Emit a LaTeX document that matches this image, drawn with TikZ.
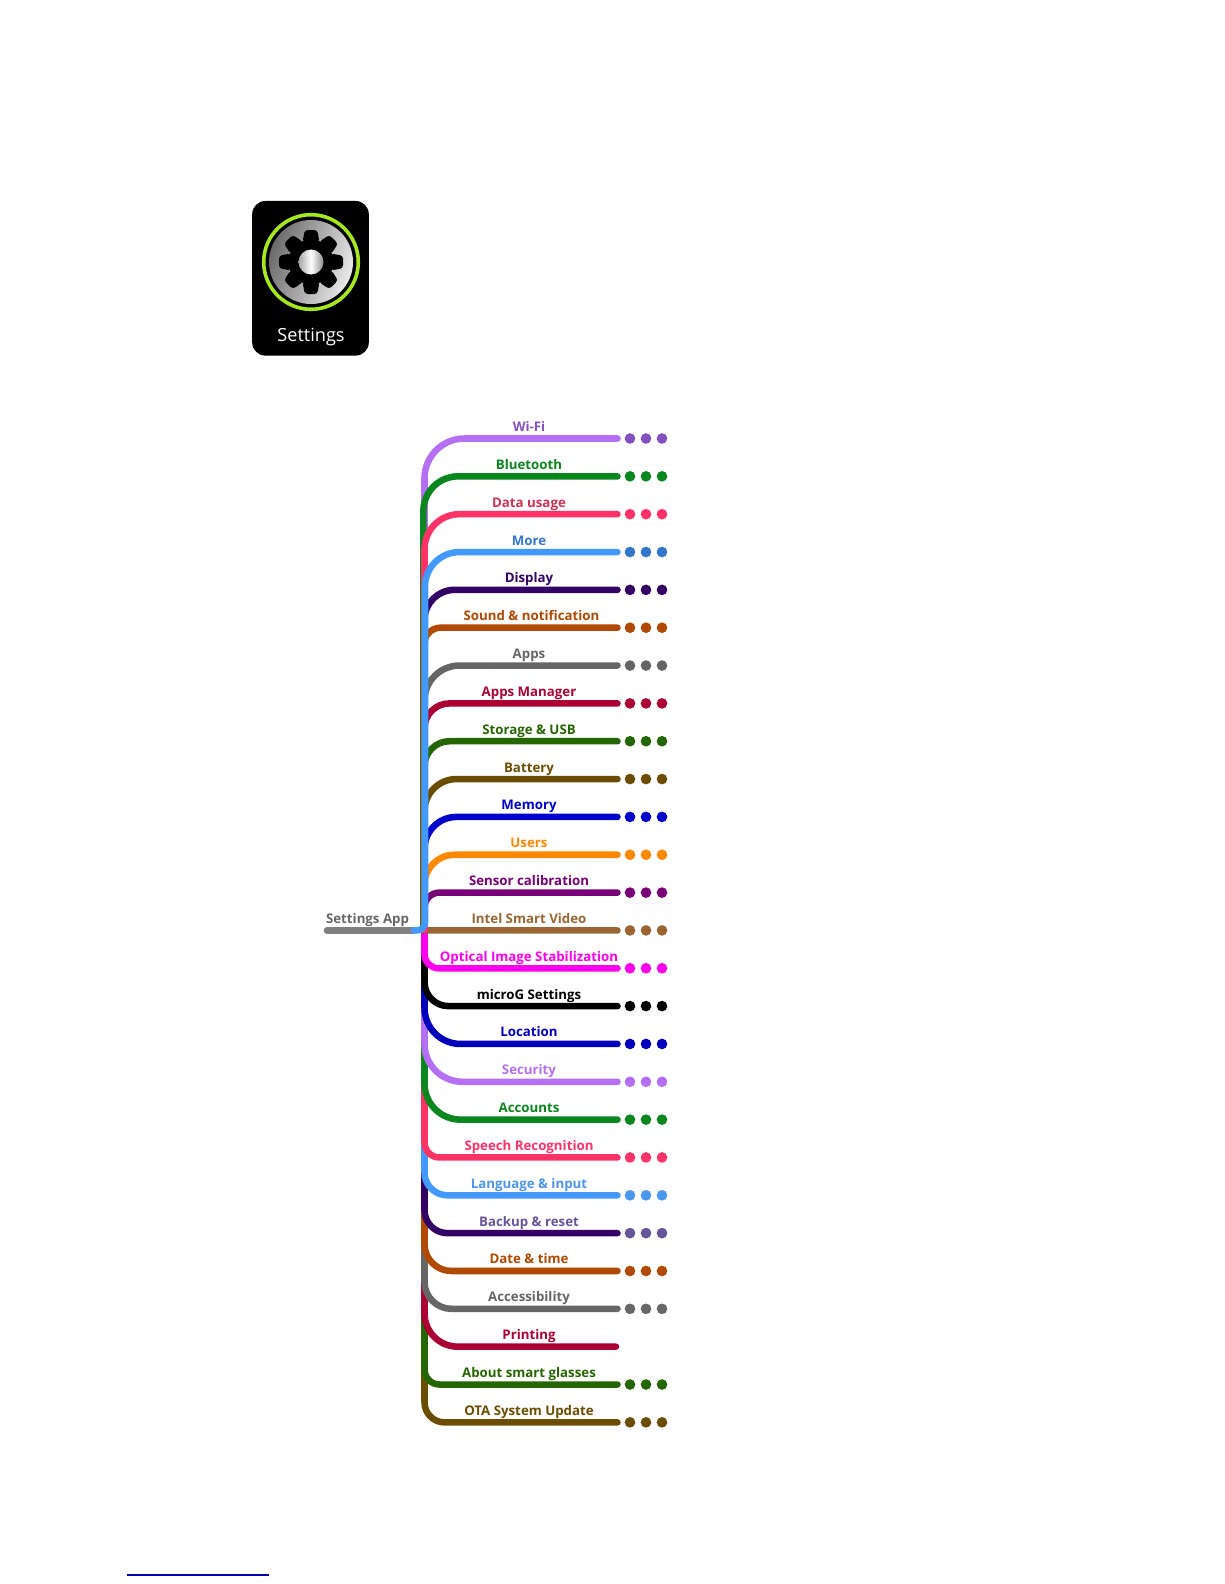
\documentclass[tikz,border=0pt]{standalone}
\usepackage{fontspec}
\setmainfont{Open Sans}
\newfontfamily\labelfont{Open Sans}
\definecolor{cWifi}{HTML}{B56FF5}\definecolor{tWifi}{HTML}{8450C0}
\definecolor{cGreen}{HTML}{0A861E}
\definecolor{cRed}{HTML}{FF3366}\definecolor{tRed}{HTML}{CC3355}
\definecolor{cBlue}{HTML}{4499FF}\definecolor{tBlue}{HTML}{3377CC}
\definecolor{tLang}{HTML}{4A96EE}
\definecolor{cIndigo}{HTML}{330066}\definecolor{tBackup}{HTML}{665599}
\definecolor{cRust}{HTML}{B04A00}
\definecolor{cGrey}{HTML}{666666}
\definecolor{cCrimson}{HTML}{AA0033}
\definecolor{cForest}{HTML}{266600}
\definecolor{cOlive}{HTML}{6B4D00}
\definecolor{cNavy}{HTML}{0000CC}
\definecolor{cOrange}{HTML}{FF8800}
\definecolor{cPlum}{HTML}{770077}
\definecolor{cBrown}{HTML}{996633}
\definecolor{cMagenta}{HTML}{FF00EE}
\definecolor{cLoc}{HTML}{0000BB}
\definecolor{cRoot}{HTML}{808080}
\definecolor{cLime}{HTML}{A6E81E}
\tikzset{
  x=0.75pt,y=-0.75pt,
  branch/.style={line width=4.9pt,line cap=round},
  blabel/.style={font=\labelfont\bfseries\fontsize{9.95pt}{12pt}\selectfont,inner sep=0pt,anchor=base},
  dotmark/.style={circle,fill,inner sep=0pt,minimum size=8pt},
}
\newcommand{\rowdots}[3]{%
  \node[dotmark,fill=#3] (d#1a) at (630,#2) {};
  \node[dotmark,fill=#3] (d#1b) at (646,#2) {};
  \node[dotmark,fill=#3] (d#1c) at (662,#2) {};
}
% #1 row, #2 label, #3 line colour, #4 label colour, #5 radius, #6 dot colour, optional label x
\newcommand{\rowbranch}[7][529]{%
  \pgfmathsetmacro\yy{438.5+#2*37.84}%
  \pgfmathsetmacro\rr{#6*0.75}%
  \coordinate (e#2) at (617.5,\yy);
  \draw[branch,color=#4,rounded corners=\rr pt] (hub) |- (e#2);
  \node[blabel,text=#5] (lab#2) at (#1,\yy-7) {#3};
  \rowdots{#2}{\yy}{#7}
}
\begin{document}
\begin{tikzpicture}
\useasboundingbox (0,0) rectangle (1224,1584);
\fill[white] (0,0) rectangle (1224,1584);
% tile
\node[draw=none,fill=black,rounded corners=10pt,minimum width=87.5pt,minimum height=116pt,inner sep=0pt] (tile) at (310.5,278.3) {};
\coordinate (gc) at (311,262);
\shade[left color=black!58,right color=black!8,shading angle=70] (gc) circle (42);
\draw[cLime,line width=2.7pt] (gc) circle (47.3);
\fill[black] (gc) circle (22.5);
\foreach \a in {0,45,...,315}{
  \begin{scope}[shift={(gc)},rotate=\a]
    \fill[black,rounded corners=2.2pt] (-8.5,-20) -- (-6.2,-32) -- (6.2,-32) -- (8.5,-20) -- cycle;
  \end{scope}
}
\shade[left color=black!35,right color=black!45,middle color=white] (gc) circle (12.5);
\node[text=white,inner sep=0pt,font=\fontsize{13.6pt}{16pt}\selectfont] (tiletext) at (311,337.5) {Settings};
% tree
\coordinate (hub) at (424.5,930.4);
\coordinate (hubL) at (414,930.4);
\coordinate (rootstart) at (327,930.4);
\coordinate (moreknee) at (425,930.4);
\coordinate (hubG) at (423.4,930.4);
\draw[branch,color=cRoot] (rootstart) -- (hubL);
\node[blabel,text=cGrey] (rootlabel) at (367.5,923.4) {Settings App};
% lower half, bottom first
\rowbranch{26}{OTA System Update}{cOlive}{cOlive}{20}{cOlive}
\rowbranch{25}{About smart glasses}{cForest}{cForest}{15}{cForest}
% Printing has no dots
\coordinate (e24) at (616,1346.66);
\draw[branch,color=cCrimson,rounded corners=25pt] (hub) |- (e24);
\node[blabel,text=cCrimson] (lab24) at (529,1339.66) {Printing};
\rowbranch{23}{Accessibility}{cGrey}{cGrey}{27}{cGrey}
\rowbranch{22}{Date \& time}{cRust}{cRust}{27}{cRust}
\rowbranch{21}{Backup \& reset}{cIndigo}{tBackup}{23}{tBackup}
\rowbranch{20}{Language \& input}{cBlue}{tLang}{23}{tLang}
\rowbranch{19}{Speech Recognition}{cRed}{cRed}{15}{cRed}
\rowbranch{18}{Accounts}{cGreen}{cGreen}{36}{cGreen}
\rowbranch{17}{Security}{cWifi}{cWifi}{38}{cWifi}
\rowbranch{16}{Location}{cLoc}{cLoc}{36}{cLoc}
\rowbranch{15}{microG Settings}{black}{black}{24}{black}
\rowbranch{14}{Optical Image Stabilization}{cMagenta}{cMagenta}{14}{cMagenta}
% upper half
\rowbranch{13}{Intel Smart Video}{cBrown}{cBrown}{1}{cBrown}
\rowbranch{12}{Sensor calibration}{cPlum}{cPlum}{15}{cPlum}
\rowbranch{11}{Users}{cOrange}{cOrange}{30}{cOrange}
\rowbranch{10}{Memory}{cNavy}{cNavy}{32}{cNavy}
\rowbranch{9}{Battery}{cOlive}{cOlive}{32}{cOlive}
\rowbranch{8}{Storage \& USB}{cForest}{cForest}{25}{cForest}
\rowbranch{7}{Apps Manager}{cCrimson}{cCrimson}{25}{cCrimson}
\rowbranch{6}{Apps}{cGrey}{cGrey}{35}{cGrey}
\rowbranch[531.5]{5}{Sound \& notification}{cRust}{cRust}{16}{cRust}
\rowbranch{4}{Display}{cIndigo}{cIndigo}{30}{cIndigo}
\rowbranch{0}{Wi-Fi}{cWifi}{tWifi}{40}{tWifi}
\coordinate (e1) at (617.5,476.34);
\draw[branch,color=cGreen,rounded corners=26pt] (hubG) |- (e1);
\node[blabel,text=cGreen] (lab1) at (529,469.34) {Bluetooth};
\rowdots{1}{476.34}{cGreen}
\rowbranch{2}{Data usage}{cRed}{tRed}{35}{cRed}
\coordinate (e3) at (617.5,552.02);
\coordinate (moremid) at (425,800);
\draw[branch,color=cBlue,rounded corners=6pt] (hubL) -- (moreknee) -- (moremid);
\draw[branch,color=cBlue,rounded corners=26pt] (moremid) |- (e3);
\node[blabel,text=tBlue] (lab3) at (529,545.02) {More};
\rowdots{3}{552.02}{tBlue}
% footnote rule
\coordinate (ruleL) at (127,1575);
\coordinate (ruleR) at (269,1575);
\draw[color=cNavy!85!black,line width=0.85pt] (ruleL) -- (ruleR);
\end{tikzpicture}
\end{document}
